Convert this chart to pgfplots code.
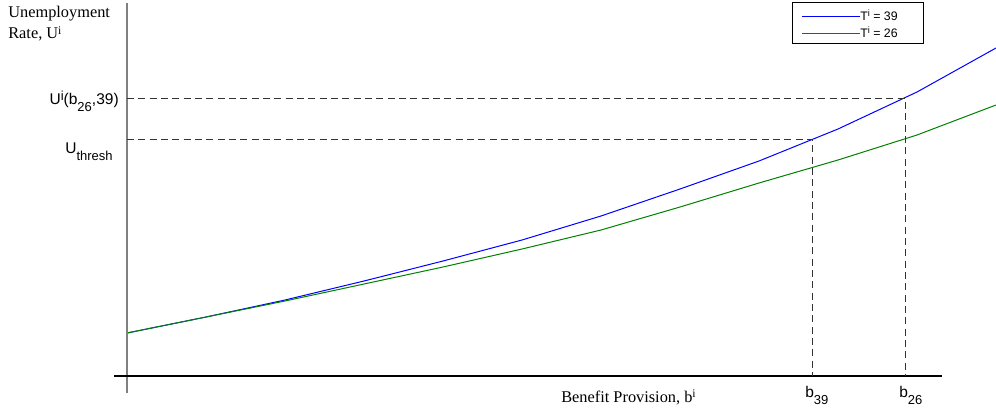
\documentclass[border=0pt]{standalone}
\usepackage{fontspec}
\setmainfont{Liberation Serif}
\setsansfont{Liberation Sans}
\usepackage{pgfplots}
\pgfplotsset{compat=1.18}

% text helpers: serif axis titles, sans annotations with raised/lowered indices
\newcommand{\serif}{\fontsize{9.8}{11}\selectfont\rmfamily}
\newcommand{\ssup}[1]{\raisebox{2.6pt}{\fontsize{7}{8}\selectfont #1}}
\newcommand{\lab}{\fontsize{9.3}{11}\selectfont\sffamily}
\newcommand{\lsub}[1]{\raisebox{-4.4pt}{\fontsize{7.8}{9}\selectfont #1}}
\newcommand{\lsup}[1]{\raisebox{2pt}{\fontsize{7.8}{9}\selectfont #1}}
\newcommand{\legfont}{\fontsize{7.4}{8}\selectfont\sffamily}
\newcommand{\legsup}[1]{\raisebox{2.2pt}{\fontsize{5.5}{6}\selectfont #1}}

\definecolor{mblue}{rgb}{0,0,1}
\definecolor{mgreen}{rgb}{0,0.5,0}

\begin{document}
\begin{tikzpicture}
\begin{axis}[
  scale only axis,
  width=597.6pt, height=247.8pt,
  xmin=-127, xmax=869, ymin=-37, ymax=376,
  axis lines=none,
  clip=false,
]
% unemployment rate against benefit provision, two durations
\addplot[draw=mblue, line width=0.6pt] coordinates {
  (0,43) (79,59) (158,76) (237,95) (316,115) (395,136)
  (474,160) (553,187) (632,215) (711,247) (790,284) (869,328)
};
\addplot[draw=mgreen, line width=0.6pt] coordinates {
  (0,43) (79,59) (158,75) (237,92) (316,109) (395,127)
  (474,146) (553,169) (632,193) (711,216) (790,241) (869,271)
};

% key: frame, sample lines and entries
\addplot[black, line width=0.6pt]
  coordinates {(665,373) (796,373) (796,333) (665,333) (665,373)};
\addplot[draw=mblue, line width=0.6pt] coordinates {(675,359) (733,359)};
\addplot[draw=mgreen, line width=0.6pt] coordinates {(675,342) (733,342)};
\node[anchor=base west, inner sep=0pt] at (axis cs:733,355.5) {\legfont T\legsup{i} = 39};
\node[anchor=base west, inner sep=0pt] at (axis cs:733,338.5) {\legfont T\legsup{i} = 26};

% axes
\addplot[gray, line width=0.9pt] coordinates {(0,-17) (0,373)};
\addplot[black, line width=0.8pt] coordinates {(-13,0) (815,0)};

% guide lines
\addplot[black!80, line width=0.6pt, dash pattern=on 4.2pt off 2.6pt]
  coordinates {(0,278) (778,278) (778,0)};
\addplot[black!80, line width=0.6pt, dash pattern=on 4.2pt off 2.6pt]
  coordinates {(0,237) (685,237) (685,0)};

% labels
\node[anchor=base west, inner sep=0pt] at (axis cs:-119,358) {\serif Unemployment};
\node[anchor=base west, inner sep=0pt] at (axis cs:-119,337) {\serif Rate, U\ssup{i}};
\node[anchor=base west, inner sep=0pt] at (axis cs:434,-26) {\serif Benefit Provision, b\ssup{i}};
\node[anchor=base east, inner sep=0pt] at (axis cs:-8,272) {\lab U\lsup{i}(b\lsub{26},39)};
\node[anchor=base east, inner sep=0pt] at (axis cs:-14,223) {\lab U\lsub{thresh}};
\node[anchor=base west, inner sep=0pt] at (axis cs:678,-21) {\lab b\lsub{39}};
\node[anchor=base west, inner sep=0pt] at (axis cs:772,-21) {\lab b\lsub{26}};

\coordinate (bl) at (rel axis cs:0,0);
\coordinate (tr) at (rel axis cs:1,1);
\end{axis}
\pgfresetboundingbox
\path[use as bounding box] (bl) rectangle (tr);
\end{tikzpicture}
\end{document}
